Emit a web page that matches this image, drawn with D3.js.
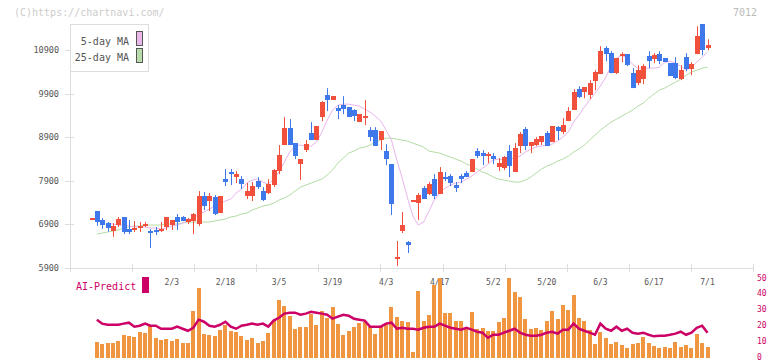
<!DOCTYPE html>
<html>
<head>
<meta charset="utf-8">
<style>
  body { margin: 0; background: #fff; }
  svg { display: block; }
  text { font-family: "DejaVu Sans Mono", monospace; }
</style>
</head>
<body>
<svg id="chart" width="772" height="361"></svg>
<script src="https://cdn.jsdelivr.net/npm/d3@7/dist/d3.min.js"></script>
<script>
// daily candles, 1/10 .. 7/1 (116 sessions)
var opens = [7030,7206,7000,6931,6748,6885,7069,6794,6771,6839,6862,6748,6771,6748,6839,6885,7069,7069,6954,6977,
  6908,7550,7435,7527,7160,7939,8100,7985,7939,7550,7550,7894,7664,7619,7802,8123,8719,9108,8764,8283,
  8604,8994,8833,9360,9864,9750,9566,9635,9589,9521,9246,9360,9062,9062,8833,8581,8283,6130,6748,6496,
  7435,7389,7733,7596,7939,7596,7985,8008,7802,8008,8077,8100,8581,8535,8489,8466,8214,8192,8581,8100,
  8696,9085,8696,8719,8787,8994,8787,9131,9016,9269,9521,10002,9933,9864,10185,10346,10941,10827,10368,10758,
  10804,10368,10139,10231,10758,10689,10804,10712,10598,10598,10231,10735,10460,10804,11491,10941];
var highs = [7046,7206,7046,6954,6931,7069,7069,7000,6977,6954,6954,6794,6839,6954,7069,7000,7137,7091,7046,7160,
  7664,7641,7619,7573,7550,8169,8169,8123,8008,7848,7871,7985,7756,7939,8169,8719,9360,9314,8764,8398,
  8833,9246,9154,9727,10025,9841,9635,9841,9589,9543,9429,9750,9131,9131,9039,8741,8283,6519,7183,6519,
  7458,7619,7779,7871,8054,8214,8100,8054,7871,8054,8123,8398,8650,8604,8558,8535,8421,8466,8719,8764,
  9016,9131,8787,8902,8925,9039,9154,9154,9337,9589,10002,10071,10048,10208,10437,10987,10987,10873,10712,10850,
  10804,10483,10552,10575,10873,10827,10873,10712,10598,10735,10552,10827,10620,11445,11491,11147];
var lows = [7030,6869,6800,6732,6617,6839,6679,6679,6725,6725,6839,6358,6656,6725,6771,6771,6771,7000,6908,6679,
  6862,7229,7206,7114,7160,7779,7802,7848,7710,7481,7435,7710,7435,7596,7756,8054,8719,8719,8398,7917,
  8558,8833,8833,9269,9498,9750,9314,9429,9360,9269,9246,9177,8810,8696,8604,8260,7114,5946,6702,6244,
  7435,7000,7481,7573,7481,7596,7894,7779,7642,7848,7985,8100,8421,8260,8306,8283,8123,8146,7985,8100,
  8535,8604,8535,8696,8719,8696,8787,8833,8971,9269,9521,9796,9796,9773,9979,10346,10643,10368,10346,10620,
  10529,10025,10093,10116,10483,10598,10575,10620,10300,10231,10208,10414,10323,10804,10781,10895];
var closes = [7040,6961,6885,6823,6862,7023,6725,6725,6817,6862,6908,6725,6725,6794,7069,7000,6954,6977,7023,7137,
  7550,7320,7550,7137,7550,7871,8054,8054,7825,7664,7779,7756,7458,7825,8146,8489,9108,8719,8467,8398,
  8742,8833,9154,9704,9750,9841,9498,9543,9360,9383,9429,9383,8902,8696,9039,8398,7367,6152,6885,6427,
  7458,7573,7481,7825,7550,8100,7962,7848,7733,7939,7985,8398,8466,8466,8512,8398,8306,8444,8237,8650,
  8971,8696,8787,8856,8925,8696,9154,9039,9177,9498,9933,9818,10048,10139,10391,10873,10804,10368,10712,10804,
  10552,10025,10437,10529,10643,10781,10643,10620,10300,10254,10437,10460,10575,11216,10895,11010];

// moving averages (null = not drawn)
var ma5 = [null,null,null,6931,6908,6885,6885,6862,6840,6840,6840,6817,6817,6794,6817,6862,6885,6931,6977,7023,
  7137,7183,7252,7321,7389,7435,7481,7619,7710,7848,7917,7939,7871,7825,7939,8100,8329,8558,8696,8719,
  8696,8696,8787,9016,9291,9521,9635,9658,9658,9635,9612,9543,9475,9383,9269,9062,8833,8375,7962,7504,
  7091,6885,6954,7206,7458,7619,7733,7802,7848,7871,7939,8008,8100,8192,8283,8375,8398,8375,8398,8421,
  8466,8558,8627,8673,8696,8719,8741,8810,8902,9016,9246,9406,9589,9750,9910,10071,10277,10529,10712,10781,
  10712,10575,10483,10483,10483,10483,10506,10620,10643,10598,10529,10437,10506,10620,10735,10850];
var ma25 = [null,6679,6702,6725,6748,6771,6817,6840,6862,6862,6885,6885,6885,6885,6908,6908,6908,6931,6954,6954,
  6954,6954,6954,6977,7000,7023,7069,7091,7137,7160,7229,7275,7321,7344,7389,7458,7504,7573,7664,7756,
  7802,7848,7894,7939,8031,8146,8306,8421,8535,8581,8650,8673,8719,8787,8833,8879,8879,8856,8833,8810,
  8764,8719,8673,8581,8558,8535,8489,8444,8398,8352,8283,8237,8169,8100,8054,7985,7939,7917,7894,7871,
  7871,7917,7985,8077,8169,8237,8283,8352,8398,8466,8558,8627,8719,8833,8948,9062,9154,9246,9314,9383,
  9452,9521,9612,9681,9796,9887,9979,10025,10093,10162,10231,10323,10391,10437,10483,10506];

// AI-Predict panel
var aiBars = [null,9.9,8.6,9.3,9.3,10.5,14.3,13.7,13.1,16.2,15.6,20,12.4,11.2,11.8,10.5,11.8,9.3,9.3,29.5,
  43.4,15,14.3,13.7,17.5,20.6,16.8,16.2,13.7,11.2,12.4,9.3,10.5,15.6,23.2,36.4,32.6,26.3,18.1,19.4,
  19.4,27.6,20.6,29.5,25,32,21.3,14.3,16.8,19.4,21.9,22.5,19.4,15,19.4,21.3,32,25.7,23.2,22.5,
  3.6,42.1,23.2,26.9,45.9,49.7,28.2,28.2,23.2,23.2,18.1,28.8,18.1,18.7,16.8,16.8,22.5,25,50.3,41.5,
  38.3,24.4,18.1,18.7,17.5,23.2,29.5,24.4,33.3,30.1,39.6,25,23.2,17.5,8.6,16.2,12.4,8.6,9.9,8,
  6.1,8.6,9.3,13.1,9.3,7.4,6.1,6.7,6.1,9.9,6.7,8,6.1,15,9.3,6.7];
var aiLine = [null,23.8,21.3,20.6,20.6,20.6,21.3,21.9,19.4,20,21.3,20,20,18.1,18.1,18.1,19.4,18.1,16.8,18.7,
  23.8,22.5,20,19.4,20.6,22.5,19.4,18.1,20,20.6,21.3,20.6,21.3,19.4,23.2,25,27.6,28.2,28.2,26.9,
  27.6,28.8,28.2,27.6,26.9,24.4,25.7,26.9,26.3,24.4,23.8,23.2,19.4,19.4,19.4,21.3,21.9,18.1,18.7,18.1,
  18.1,17.5,18.7,19.4,19.4,21.3,20,18.7,18.1,17.5,18.7,17.5,16.2,15.6,12.4,14.3,14.3,15.6,16.8,18.1,
  15.6,14.3,13.7,13.7,14.3,15.6,16.2,15,17.5,17.5,21.3,18.1,16.8,15.6,14.3,21.3,18.1,16.8,19.4,16.8,
  18.1,15.6,15,15.6,14.3,13.3,13.7,13.7,14.3,15,16.2,14.3,15.6,18.7,20,15.6];

var yTicks = [5900, 6900, 7900, 8900, 9900, 10900];
var dateIdx = [15, 25, 35, 45, 55, 65, 75, 85, 95, 105, 115];
var dateLabels = ['2/3', '2/18', '3/5', '3/19', '4/3', '4/17', '5/2', '5/20', '6/3', '6/17', '7/1'];
var aiTicks = [0, 10, 20, 30, 40, 50];

var RED = '#f0503c', BLUE = '#3f78ea', AI = '#cc0066';

var svg = d3.select('#chart');
var n = closes.length;

var x = d3.scaleLinear().domain([0, n - 1]).range([91.5, 707.5]);
var y = d3.scaleLinear().domain([5900, 10900]).range([268, 50]);
var yAi = d3.scaleLinear().domain([0, 50]).range([357.5, 278]);
var grid = d3.scaleLinear().domain([0, 11]).range([70, 753]);

// header texts
svg.append('text').attr('x', 14).attr('y', 16).attr('font-size', 10).attr('fill', '#cccccc')
  .text('(C)https://chartnavi.com/');
svg.append('text').attr('x', 757).attr('y', 16).attr('font-size', 10).attr('fill', '#bbbbbb')
  .attr('text-anchor', 'end').text('7012');

// axes frame
svg.append('line').attr('x1', 70.5).attr('x2', 70.5).attr('y1', 24).attr('y2', 272)
  .attr('stroke', '#dddddd');
svg.append('line').attr('x1', 70).attr('x2', 753).attr('y1', 268.5).attr('y2', 268.5)
  .attr('stroke', '#dddddd');
svg.selectAll('.xtick').data(d3.range(1, 12)).enter().append('line')
  .attr('x1', function(d) { return Math.round(grid(d)) + 0.5; })
  .attr('x2', function(d) { return Math.round(grid(d)) + 0.5; })
  .attr('y1', 264).attr('y2', 272).attr('stroke', '#dddddd');

// price axis
svg.selectAll('.ytick').data(yTicks).enter().append('line')
  .attr('x1', 65).attr('x2', 74)
  .attr('y1', function(d) { return Math.round(y(d)) + 0.5; })
  .attr('y2', function(d) { return Math.round(y(d)) + 0.5; })
  .attr('stroke', '#dddddd');
svg.selectAll('.ylab').data(yTicks).enter().append('text')
  .attr('x', 59).attr('y', function(d) { return y(d) + 3; })
  .attr('text-anchor', 'end').attr('font-size', 8.5).attr('fill', '#555555')
  .text(function(d) { return d; });

// moving averages
var maLine = function(arr) {
  return d3.line()
    .defined(function(d) { return arr[d] != null; })
    .x(function(d) { return x(d); })
    .y(function(d) { return y(arr[d]); })(d3.range(n));
};
svg.append('path').attr('d', maLine(ma25)).attr('fill', 'none')
  .attr('stroke', '#b4dca4').attr('stroke-width', 1);
svg.append('path').attr('d', maLine(ma5)).attr('fill', 'none')
  .attr('stroke', '#e8b4ec').attr('stroke-width', 1);

// candles
var candle = svg.selectAll('.candle').data(d3.range(n)).enter().append('g');
candle.append('line')
  .attr('x1', function(i) { return Math.round(x(i)) + 0.5; })
  .attr('x2', function(i) { return Math.round(x(i)) + 0.5; })
  .attr('y1', function(i) { return y(highs[i]); })
  .attr('y2', function(i) { return y(lows[i]); })
  .attr('stroke', function(i) { return closes[i] >= opens[i] ? RED : BLUE; });
candle.append('rect')
  .attr('x', function(i) { return Math.round(x(i)) - 2; })
  .attr('width', 5)
  .attr('y', function(i) { return y(Math.max(opens[i], closes[i])); })
  .attr('height', function(i) { return Math.max(2, Math.abs(y(opens[i]) - y(closes[i]))); })
  .attr('fill', function(i) { return closes[i] >= opens[i] ? RED : BLUE; })
  .attr('shape-rendering', 'crispEdges');

// legend
svg.append('rect').attr('x', 70.5).attr('y', 24.5).attr('width', 78).attr('height', 47)
  .attr('fill', '#ffffff').attr('stroke', '#dddddd');
svg.append('text').attr('x', 129).attr('y', 45).attr('text-anchor', 'end')
  .attr('font-size', 10).attr('fill', '#555555').text('5-day MA');
svg.append('text').attr('x', 129).attr('y', 61).attr('text-anchor', 'end')
  .attr('font-size', 10).attr('fill', '#555555').text('25-day MA');
svg.append('rect').attr('x', 136.5).attr('y', 31.5).attr('width', 6).attr('height', 14)
  .attr('fill', '#eab8ea').attr('stroke', '#555555');
svg.append('rect').attr('x', 136.5).attr('y', 48.5).attr('width', 6).attr('height', 14)
  .attr('fill', '#b8dcaa').attr('stroke', '#555555');

// date labels
svg.selectAll('.xlab').data(dateIdx).enter().append('text')
  .attr('x', function(d) { return x(d); }).attr('y', 285)
  .attr('text-anchor', 'middle').attr('font-size', 8).attr('fill', '#555555')
  .text(function(d, i) { return dateLabels[i]; });

// AI-Predict panel
svg.append('text').attr('x', 76).attr('y', 290).attr('font-size', 10).attr('fill', AI)
  .text('AI-Predict');
svg.append('rect').attr('x', 142).attr('y', 277).attr('width', 7).attr('height', 16).attr('fill', AI);

svg.selectAll('.aibar').data(d3.range(n).filter(function(i) { return aiBars[i] != null; }))
  .enter().append('rect')
  .attr('x', function(i) { return Math.round(x(i)) - 2; })
  .attr('width', 4)
  .attr('y', function(i) { return yAi(aiBars[i]); })
  .attr('height', function(i) { return yAi(0) - yAi(aiBars[i]); })
  .attr('fill', '#f09640')
  .attr('shape-rendering', 'crispEdges');

svg.append('path')
  .attr('d', d3.line()
    .defined(function(i) { return aiLine[i] != null; })
    .x(function(i) { return x(i); })
    .y(function(i) { return yAi(aiLine[i]); })(d3.range(n)))
  .attr('fill', 'none').attr('stroke', AI).attr('stroke-width', 2.5);

svg.selectAll('.ailab').data(aiTicks).enter().append('text')
  .attr('x', 757).attr('y', function(d) { return yAi(d) + 2.5; })
  .attr('font-size', 8).attr('fill', AI)
  .text(function(d) { return d; });
</script>
</body>
</html>
